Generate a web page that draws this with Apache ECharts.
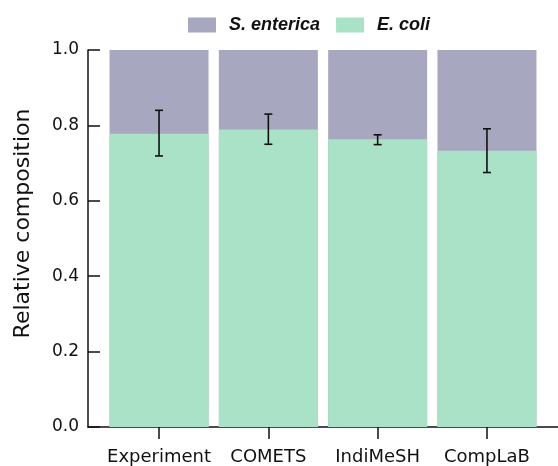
<!DOCTYPE html>
<html>
<head>
<meta charset="utf-8">
<script src="https://cdn.jsdelivr.net/npm/echarts@6/dist/echarts.min.js"></script>
<style>html,body{margin:0;padding:0;background:#fff}#c{width:558px;height:466px}</style>
</head>
<body>
<div id="c"></div>
<script>
var categories = ['Experiment', 'COMETS', 'IndiMeSH', 'CompLaB'];
var eColi = [0.778, 0.789, 0.763, 0.733];
var sEnterica = [0.222, 0.211, 0.237, 0.267];
var errLow = [0.719, 0.750, 0.749, 0.675];
var errHigh = [0.840, 0.830, 0.775, 0.791];
var yTicks = [0, 0.2, 0.4, 0.6, 0.8, 1.0];

var FONT = 'DejaVu Sans';
var chart = echarts.init(document.getElementById('c'), null, {renderer: 'canvas'});

function pairs(arr) { return arr.map(function (v, i) { return [i, v]; }); }
// top segment drawn from 0 to the stacked total, E. coli drawn over it
var sEntericaTop = sEnterica.map(function (v, i) { return [i, eColi[i] + v]; });

chart.setOption({
  animation: false,
  legend: {
    top: 16,
    left: 188,
    padding: 0,
    icon: 'rect',
    itemWidth: 28,
    itemHeight: 15,
    itemGap: 16,
    textStyle: {fontFamily: 'Liberation Sans', fontSize: 18, fontWeight: 'bold', fontStyle: 'italic', color: '#111', padding: [0, 0, 0, 8]},
    data: ['S. enterica', 'E. coli']
  },
  grid: {left: 88, right: -5, top: 50, bottom: 37.5, containLabel: false},
  xAxis: {
    type: 'value',
    min: -0.65,
    max: 3.65,
    splitLine: {show: false},
    axisLine: {show: true, onZero: false, lineStyle: {color: '#111', width: 1.5}},
    axisTick: {show: true, length: 12, inside: false, customValues: [0, 1, 2, 3], lineStyle: {color: '#111', width: 1.5}},
    axisLabel: {
      customValues: [0, 1, 2, 3],
      margin: 21,
      fontFamily: FONT, fontSize: 18, color: '#111',
      formatter: function (v) { return categories[Math.round(v)]; }
    }
  },
  yAxis: {
    type: 'value',
    min: 0, max: 1, interval: 0.2,
    name: 'Relative composition',
    nameLocation: 'middle',
    nameGap: 54,
    nameTextStyle: {fontFamily: FONT, fontSize: 22, color: '#111', padding: [0, 0, 0, 30]},
    splitLine: {show: false},
    axisLine: {show: true, onZero: false, lineStyle: {color: '#111', width: 1.5}},
    axisTick: {show: true, inside: true, length: 12, lineStyle: {color: '#111', width: 1.5}},
    axisLabel: {fontFamily: FONT, fontSize: 17, color: '#111', margin: 9,
      formatter: function (v) { return v.toFixed(1); }}
  },
  series: [
    {
      name: 'S. enterica', type: 'bar', barWidth: 99, barGap: '-100%',
      itemStyle: {color: '#a7a7c0'},
      data: sEntericaTop
    },
    {
      name: 'E. coli', type: 'bar', barWidth: 99, barGap: '-100%',
      itemStyle: {color: '#aae2c7'},
      data: pairs(eColi)
    },
    {
      type: 'custom',
      z: 10,
      data: errLow.map(function (lo, i) { return [i, lo, errHigh[i]]; }),
      renderItem: function (params, api) {
        var x = api.value(0);
        var lo = api.coord([x, api.value(1)]);
        var hi = api.coord([x, api.value(2)]);
        var w = 4;
        var st = {stroke: '#111', lineWidth: 1.6};
        return {
          type: 'group',
          children: [
            {type: 'line', shape: {x1: lo[0], y1: lo[1], x2: hi[0], y2: hi[1]}, style: st},
            {type: 'line', shape: {x1: lo[0] - w, y1: lo[1], x2: lo[0] + w, y2: lo[1]}, style: st},
            {type: 'line', shape: {x1: hi[0] - w, y1: hi[1], x2: hi[0] + w, y2: hi[1]}, style: st}
          ]
        };
      }
    }
  ]
});
</script>
</body>
</html>
